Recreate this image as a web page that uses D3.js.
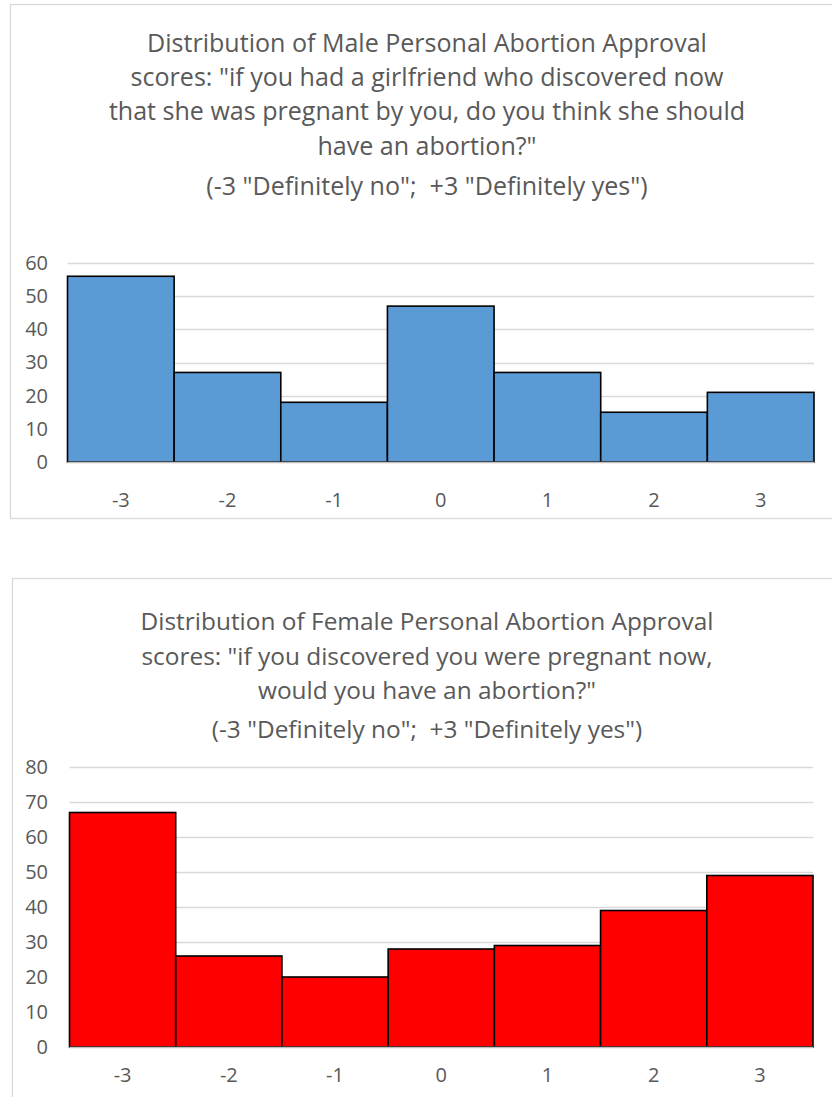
<!DOCTYPE html>
<html><head><meta charset="utf-8">
<script src="https://cdn.jsdelivr.net/npm/d3@7"></script>
<style>
html,body{margin:0;padding:0;background:#fff;}
svg{display:block;}
.tick text{font-size:20px !important;font-family:'Open Sans','Noto Sans',sans-serif !important;fill:#595959 !important;}
</style></head>
<body>
<script>
const categories = ["-3","-2","-1","0","1","2","3"];
const maleValues = [56, 27, 18, 47, 27, 15, 21];
const femaleValues = [67, 26, 20, 28, 29, 39, 49];
const maleTicks = [0,10,20,30,40,50,60];
const femaleTicks = [0,10,20,30,40,50,60,70,80];
const maleTitle = [
  "Distribution of Male Personal Abortion Approval",
  "scores: \"if you had a girlfriend who discovered now",
  "that she was pregnant by you, do you think she should",
  "have an abortion?\"",
  "(-3 \"Definitely no\";  +3 \"Definitely yes\")"
];
const femaleTitle = [
  "Distribution of Female Personal Abortion Approval",
  "scores: \"if you discovered you were pregnant now,",
  "would you have an abortion?\"",
  "(-3 \"Definitely no\";  +3 \"Definitely yes\")"
];

const FONT = "'Open Sans','Noto Sans',sans-serif";
const svg = d3.select("body").append("svg").attr("width", 832).attr("height", 1097);

function chart(cfg) {
  const g = svg.append("g");
  g.append("rect").attr("x", cfg.box[0]+0.5).attr("y", cfg.box[1]+0.5)
    .attr("width", cfg.box[2]).attr("height", cfg.box[3])
    .attr("fill", "#fff").attr("stroke", "#d9d9d9").attr("stroke-width", 1.3);

  const tg = g.append("g").attr("font-family", FONT).attr("fill", "#595959").attr("font-size", 20);
  cfg.title.forEach((t, i) => {
    tg.append("text").attr("x", cfg.cx).attr("y", cfg.titleY[i])
      .attr("text-anchor", "middle").attr("dominant-baseline", "central")
      .attr("xml:space", "preserve").style("white-space", "pre")
      .text(t);
  });
  const w0 = tg.select("text").node().getComputedTextLength();
  tg.attr("font-size", 20 * cfg.titleW / w0);

  const x = d3.scaleBand().domain(cfg.categories).range([cfg.x0, cfg.x1]).padding(0);
  const y = d3.scaleLinear().domain([0, cfg.ymax]).range([cfg.y0, cfg.y1]);

  g.append("g").selectAll("line").data(cfg.ticks.filter(d => d > 0)).join("line")
    .attr("x1", cfg.x0).attr("x2", cfg.x1)
    .attr("y1", d => Math.round(y(d)) + 0.5).attr("y2", d => Math.round(y(d)) + 0.5)
    .attr("stroke", "#d9d9d9").attr("stroke-width", 1.3);

  const ya = d3.axisLeft(y).tickValues(cfg.ticks).tickSize(0).tickPadding(0);
  const yg = g.append("g").attr("transform", `translate(${cfg.yLabelX},0)`).call(ya);
  yg.select(".domain").remove();

  g.append("g").selectAll("rect").data(cfg.values).join("rect")
    .attr("x", (d, i) => x(cfg.categories[i]))
    .attr("y", d => y(d))
    .attr("width", x.bandwidth())
    .attr("height", d => y(0) - y(d))
    .attr("fill", cfg.color).attr("stroke", "#000").attr("stroke-width", 1.6);

  g.append("line").attr("x1", cfg.x0).attr("x2", cfg.x1)
    .attr("y1", cfg.y0 + 0.5).attr("y2", cfg.y0 + 0.5)
    .attr("stroke", "#bfbfbf").attr("stroke-width", 1.3);

  const xa = d3.axisBottom(x).tickSize(0).tickPadding(0);
  const xg = g.append("g").attr("transform", `translate(0,${cfg.xLabelY})`).call(xa);
  xg.select(".domain").remove();
  xg.selectAll("text").attr("y", 0).attr("dy", "0.35em");
}

chart({
  box: [10, 4, 840, 514],
  cx: 427,
  title: maleTitle,
  titleY: [42, 76, 110, 145, 185],
  titleW: 560,
  categories: categories,
  values: maleValues,
  ticks: maleTicks,
  ymax: 60,
  x0: 67.5, x1: 814,
  y0: 462, y1: 263,
  yLabelX: 48,
  xLabelY: 500,
  color: "#5b9bd5"
});

chart({
  box: [12, 578, 840, 540],
  cx: 427,
  title: femaleTitle,
  titleY: [620, 655, 689, 728],
  titleW: 573,
  categories: categories,
  values: femaleValues,
  ticks: femaleTicks,
  ymax: 80,
  x0: 69.5, x1: 813,
  y0: 1047, y1: 767,
  yLabelX: 48,
  xLabelY: 1075,
  color: "#ff0000"
});
</script>
</body></html>
